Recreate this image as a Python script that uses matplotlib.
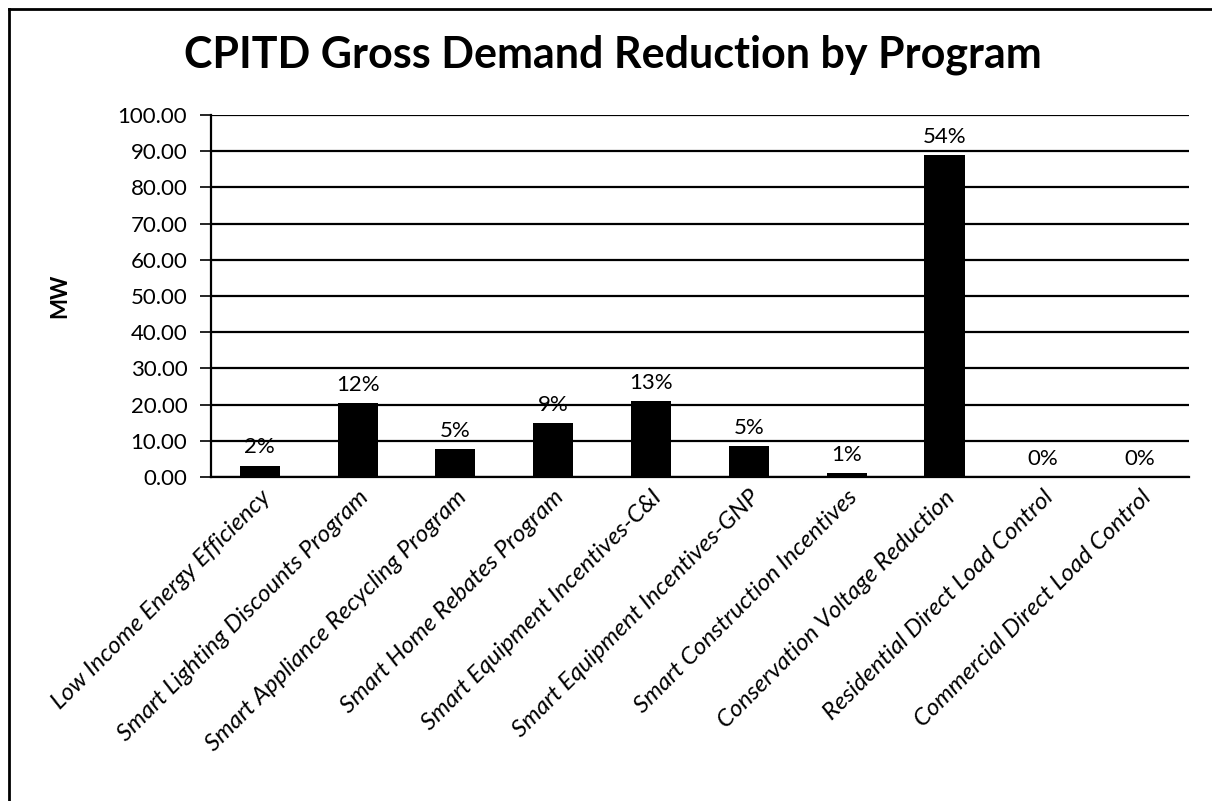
import matplotlib
matplotlib.use("Agg")
import matplotlib.pyplot as plt
from matplotlib.lines import Line2D

plt.rcParams['font.family'] = ['Lato', 'DejaVu Sans']

programs = [
    "Low Income Energy Efficiency",
    "Smart Lighting Discounts Program",
    "Smart Appliance Recycling Program",
    "Smart Home Rebates Program",
    "Smart Equipment Incentives-C&I",
    "Smart Equipment Incentives-GNP",
    "Smart Construction Incentives",
    "Conservation Voltage Reduction",
    "Residential Direct Load Control",
    "Commercial Direct Load Control",
]
demand_mw = [3.1, 20.4, 7.7, 14.8, 21.0, 8.6, 1.0, 88.8, 0.0, 0.0]
y_ticks = [0, 10, 20, 30, 40, 50, 60, 70, 80, 90, 100]

total = sum(demand_mw)
shares = [v / total for v in demand_mw]

fig = plt.figure(figsize=(12.12, 8.01), dpi=100)
ax = fig.add_axes([0.174, 0.4045, 0.807, 0.452])

x = list(range(len(programs)))
ax.bar(x, demand_mw, width=0.41, color="black", zorder=3)

for xi, v, s in zip(x, demand_mw, shares):
    ax.annotate(f"{s:.0%}", (xi, v), xytext=(0, 6), textcoords="offset points",
                ha="center", va="bottom", fontsize=16, color="black", zorder=4)

ax.set_xlim(-0.5, len(programs) - 0.5)
ax.set_ylim(0, 100)
ax.set_yticks(y_ticks)
ax.set_yticklabels([f"{t:.2f}" for t in y_ticks], fontsize=16)
ax.yaxis.grid(True, color="black", linewidth=1.6, zorder=0)
ax.set_axisbelow(True)
ax.tick_params(axis="y", length=8, width=1.2, pad=9)
ax.tick_params(axis="x", length=0, pad=7)

ax.set_xticks(x)
ax.set_xticklabels(programs, rotation=45, ha="right", va="top",
                   rotation_mode="anchor", fontsize=17.5, style="italic")

for side in ("top", "right"):
    ax.spines[side].set_visible(False)
ax.spines["left"].set_linewidth(1.6)
ax.spines["bottom"].set_linewidth(1.6)

ax.set_ylabel("MW", fontsize=16, fontweight="bold", labelpad=34)

fig.text(0.506, 0.932, "CPITD Gross Demand Reduction by Program",
         ha="center", va="center", fontsize=31, fontweight="bold")

# outer chart frame (top and left edges)
fig.add_artist(Line2D([0.0074, 1.0], [0.989, 0.989], transform=fig.transFigure,
                      color="black", linewidth=2))
fig.add_artist(Line2D([0.0074, 0.0074], [0.0, 0.989], transform=fig.transFigure,
                      color="black", linewidth=2))

fig.savefig("out.png", dpi=100, facecolor="white")
